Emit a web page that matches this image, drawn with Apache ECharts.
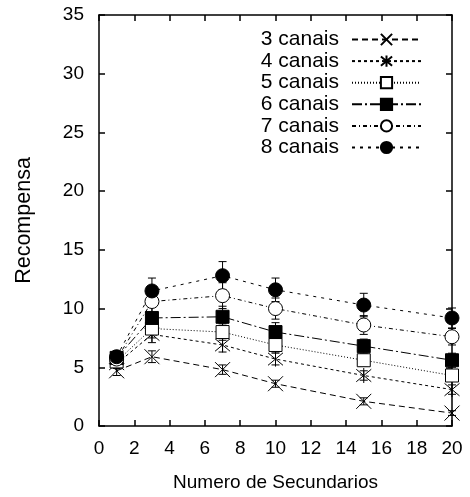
<!DOCTYPE html>
<html><head><meta charset="utf-8">
<script src="https://cdn.jsdelivr.net/npm/echarts@6/dist/echarts.min.js"></script>
<style>html,body{margin:0;padding:0;background:#fff}#c{width:470px;height:497px}</style>
</head><body><div id="c"></div>
<script>
const xValues = [1, 3, 7, 10, 15, 20];
const seriesNames = ['3 canais', '4 canais', '5 canais', '6 canais', '7 canais', '8 canais'];
const c3 = [4.7, 5.9, 4.8, 3.6, 2.1, 1.1];
const c4 = [5.3, 7.8, 6.9, 5.7, 4.3, 3.1];
const c5 = [5.5, 8.3, 8.0, 6.9, 5.6, 4.3];
const c6 = [5.8, 9.2, 9.3, 8.0, 6.8, 5.6];
const c7 = [5.7, 10.6, 11.1, 10.0, 8.6, 7.6];
const c8 = [5.9, 11.5, 12.8, 11.6, 10.3, 9.2];
const e3 = [0.4, 0.5, 0.4, 0.3, 0.3, 0.2];
const e4 = [0.4, 0.7, 0.6, 0.5, 0.4, 0.4];
const e5 = [0.4, 0.8, 0.7, 0.6, 0.5, 0.5];
const e6 = [0.5, 0.9, 0.9, 0.8, 0.6, 0.6];
const e7 = [0.5, 1.0, 1.1, 0.9, 0.8, 0.7];
const e8 = [0.5, 1.1, 1.2, 1.0, 1.0, 0.85];
const xTicks = [0, 2, 4, 6, 8, 10, 12, 14, 16, 18, 20];
const yTicks = [0, 5, 10, 15, 20, 25, 30, 35];

const values = [c3, c4, c5, c6, c7, c8];
const errors = [e3, e4, e5, e6, e7, e8];
const dashes = [[6, 4], [3, 3], [1, 2], [10, 3, 2, 3], [4, 3, 1, 3], [3, 5]];
const symbols = [
  'path://M0,0L10,10M10,0L0,10',
  'path://M0,0L10,10M10,0L0,10M5,-1L5,11',
  'rect', 'rect', 'circle', 'circle'
];
const sizes = [15, 15, 13, 13, 14, 14];
const fills = ['#fff', '#fff', '#fff', '#000', '#fff', '#000'];
const FONT = 'Liberation Sans';

const series = [];
values.forEach((vals, i) => {
  series.push({
    type: 'custom',
    name: seriesNames[i] + ' err',
    z: 3,
    silent: true,
    data: vals.map((v, j) => [xValues[j], v, errors[i][j]]),
    renderItem: function (params, api) {
      const x = api.value(0), y = api.value(1), e = api.value(2);
      const top = api.coord([x, y + e]);
      const bot = api.coord([x, y - e]);
      const hw = 4;
      const st = { stroke: '#000', lineWidth: 1 };
      return {
        type: 'group',
        children: [
          { type: 'line', shape: { x1: top[0], y1: top[1], x2: bot[0], y2: bot[1] }, style: st },
          { type: 'line', shape: { x1: top[0] - hw, y1: top[1], x2: top[0] + hw, y2: top[1] }, style: st },
          { type: 'line', shape: { x1: bot[0] - hw, y1: bot[1], x2: bot[0] + hw, y2: bot[1] }, style: st }
        ]
      };
    }
  });
  series.push({
    type: 'line',
    name: seriesNames[i],
    z: 4,
    data: vals.map((v, j) => [xValues[j], v]),
    symbol: symbols[i],
    symbolSize: sizes[i],
    showAllSymbol: true,
    lineStyle: { color: '#000', width: 1, type: dashes[i] },
    itemStyle: { color: fills[i], borderColor: '#000', borderWidth: 1 },
    emphasis: { disabled: true },
    animation: false
  });
});

const chart = echarts.init(document.getElementById('c'));
const axisCommon = {
  type: 'value',
  axisLine: { show: true, onZero: false, lineStyle: { color: '#000', width: 1.5 } },
  axisTick: { show: true, inside: true, length: 6, lineStyle: { color: '#000', width: 1.5 } },
  splitLine: { show: false }
};
chart.setOption({
  animation: false,
  backgroundColor: '#fff',
  grid: { left: 99, right: 18, top: 15, bottom: 69, containLabel: false },
  legend: {
    data: seriesNames,
    orient: 'vertical',
    right: 43,
    top: 24,
    align: 'right',
    itemWidth: 69,
    itemHeight: 14,
    itemGap: 0.6,
    textStyle: { fontFamily: FONT, fontSize: 21, lineHeight: 21, color: '#000', padding: [0, 8, 0, 0] }
  },
  xAxis: [
    Object.assign({}, axisCommon, {
      min: 0, max: 20, interval: 2,
      name: 'Numero de Secundarios', nameLocation: 'middle', nameGap: 47,
      nameTextStyle: { fontFamily: FONT, fontSize: 19, color: '#000' },
      axisLabel: { fontFamily: FONT, fontSize: 19, color: '#000', margin: 13,
        formatter: v => xTicks.includes(v) ? String(v) : '' }
    }),
    Object.assign({}, axisCommon, {
      min: 0, max: 20, interval: 2, position: 'top', axisLabel: { show: false }
    })
  ],
  yAxis: [
    Object.assign({}, axisCommon, {
      min: 0, max: 35, interval: 5,
      name: 'Recompensa', nameLocation: 'middle', nameGap: 64,
      nameTextStyle: { fontFamily: FONT, fontSize: 21.5, color: '#000' },
      axisLabel: { fontFamily: FONT, fontSize: 19, color: '#000', margin: 15,
        formatter: v => yTicks.includes(v) ? String(v) : '' }
    }),
    Object.assign({}, axisCommon, {
      min: 0, max: 35, interval: 5, position: 'right', axisLabel: { show: false }
    })
  ],
  series: series
});
</script>
</body></html>
